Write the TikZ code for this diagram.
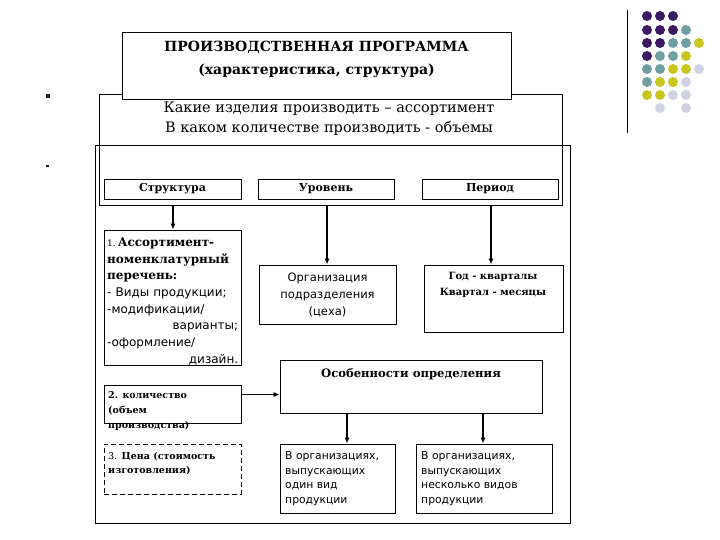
\documentclass[tikz,border=0pt]{standalone}
\usepackage{fontspec}
\setmainfont{DejaVu Serif}
\setsansfont{DejaVu Sans}
\usetikzlibrary{arrows.meta,calc}
\definecolor{dpurple}{HTML}{3B1A63}
\definecolor{dteal}{HTML}{6E9FA1}
\definecolor{dyellow}{HTML}{C9C41E}
\definecolor{dlav}{HTML}{D0D2E2}
\definecolor{bulletc}{HTML}{1A1A3A}
\begin{document}
\begin{tikzpicture}[x=1pt,y=-1pt,
  box/.style={draw=black,line width=0.9pt,inner sep=0pt},
  arr/.style={line width=1.4pt,-{Latex[length=6pt,width=5pt]}},
  thinarr/.style={line width=0.8pt,-{Latex[length=6pt,width=5pt]}},
  btxt/.style={font=\bfseries\fontsize{11}{13}\selectfont,inner sep=0pt},
  stxt/.style={font=\sffamily\fontsize{10.8}{14.5}\selectfont,inner sep=0pt,align=left,anchor=north west}]
\useasboundingbox (0,0) rectangle (720,540);
% outer frames
\node[box,minimum width=475pt,minimum height=378pt] (outer) at (332.5,334) {};
\node[box,minimum width=463pt,minimum height=111pt] (q) at (330.5,149.5) {};
\node[box,fill=white,minimum width=389pt,minimum height=67pt] (title) at (316.5,65.5) {};
\node[font=\bfseries\fontsize{14}{23}\selectfont,align=center,inner sep=0pt] (titletxt) at (316.5,59.5) {ПРОИЗВОДСТВЕННАЯ ПРОГРАММА\\(характеристика, структура)};
\node[font=\fontsize{14.5}{20.5}\selectfont,align=center,inner sep=0pt] (qtxt) at (329,118.5) {Какие изделия производить – ассортимент\\В каком количестве производить - объемы};
% row of headers
\node[box,minimum width=137pt,minimum height=20pt,btxt] (struct) at (172.5,189) {Структура};
\node[box,minimum width=136pt,minimum height=20pt,btxt] (lvl) at (326,189) {Уровень};
\node[box,minimum width=136pt,minimum height=20pt,btxt] (per) at (490,189) {Период};
% box 1
\node[box,minimum width=137pt,minimum height=135pt] (b1) at (172.5,297.5) {};
\node[inner sep=0pt,anchor=north west,align=left,text width=131pt,font=\fontsize{12}{16.7}\selectfont] (b1txt) at (107,237.5)
 {{\fontsize{9}{16.7}\selectfont 1.}\,\textbf{Ассортимент-}\\\textbf{номенклатурный}\\\textbf{перечень:}\\{\sffamily\fontsize{12}{16.7}\selectfont - Виды продукции;}\\{\sffamily\fontsize{12}{16.7}\selectfont -модификации/}\\\hfill{\sffamily\fontsize{12}{16.7}\selectfont варианты;}\\{\sffamily\fontsize{12}{16.7}\selectfont -оформление/}\\\hfill{\sffamily\fontsize{12}{16.7}\selectfont дизайн.}};
% level / period boxes
\node[box,minimum width=137pt,minimum height=59pt] (org) at (327.5,294.5) {};
\node[font=\sffamily\fontsize{11.5}{17}\selectfont,align=center,inner sep=0pt] (orgtxt) at (327.5,295) {Организация\\подразделения\\(цеха)};
\node[box,minimum width=139pt,minimum height=67pt] (god) at (493.5,298.5) {};
\node[font=\bfseries\fontsize{10}{16}\selectfont,align=center,inner sep=0pt] (godtxt) at (493,284.5) {Год - кварталы\\Квартал - месяцы};
% features
\node[box,minimum width=262pt,minimum height=53pt] (osob) at (411,386.5) {};
\node[font=\bfseries\fontsize{11.6}{13}\selectfont,inner sep=0pt] (osobtxt) at (411,374) {Особенности определения};
% box 2 and 3
\node[box,minimum width=137pt,minimum height=38pt] (b2) at (172.5,404) {};
\node[inner sep=0pt,anchor=north west,align=left,font=\bfseries\fontsize{9.5}{15}\selectfont] (b2txt) at (108,391.5) {2. количество\\(объем\\производства)};
\node[box,dashed,dash pattern=on 5pt off 3pt,minimum width=137pt,minimum height=50pt] (b3) at (172.5,469) {};
\node[inner sep=0pt,anchor=north west,align=left,font=\bfseries\fontsize{9.5}{14}\selectfont] (b3txt) at (108,452.5) {{\mdseries 3.} Цена (стоимость\\изготовления)};
% bottom boxes
\node[box,minimum width=115pt,minimum height=69pt] (bb1) at (337.5,478.5) {};
\node[stxt] (bb1txt) at (285,451.5) {В организациях,\\выпускающих\\один вид\\продукции};
\node[box,minimum width=136pt,minimum height=69pt] (bb2) at (484,478.5) {};
\node[stxt] (bb2txt) at (421,451.5) {В организациях,\\выпускающих\\несколько видов\\продукции};
% arrows
\draw[arr] ([xshift=0.5pt]struct.south |- q.south) -- ([xshift=0.5pt]b1.north);
\draw[arr] ([xshift=1pt]lvl.south |- q.south) -- ([xshift=1pt]lvl.south |- org.north);
\draw[arr] ([xshift=1pt]per.south |- q.south) -- ([xshift=1pt]per.south |- god.north);
\draw[thinarr] ([yshift=-10pt]b2.north east) -- ([yshift=-10pt]b2.north east -| osob.west);
\draw[arr] ([xshift=9.5pt]bb1.north |- osob.south) -- ([xshift=9.5pt]bb1.north);
\draw[arr] ([xshift=-1pt]bb2.north |- osob.south) -- ([xshift=-1pt]bb2.north);
% bullets
\fill[bulletc] (46,94) rectangle (50,98);
\fill[bulletc] (46,165) rectangle (48.5,167.5);
% decoration
\draw[line width=1pt] (627,10) -- (627,133);
\foreach \c/\x/\y in {
 dpurple/647/16,dpurple/660/16,dpurple/673/16,
 dpurple/647/30,dpurple/660/30,dpurple/673/30,dteal/686/30,
 dpurple/647/43,dpurple/660/43,dteal/673/43,dteal/686/43,dyellow/699/43,
 dpurple/647/56,dteal/660/56,dteal/673/56,dyellow/686/56,
 dteal/647/69,dteal/660/69,dyellow/673/69,dyellow/686/69,dlav/699/69,
 dteal/647/82,dyellow/660/82,dyellow/673/82,dlav/686/82,
 dyellow/647/95,dyellow/660/95,dlav/673/95,dlav/686/95,
 dlav/660/108,dlav/686/108}
 \fill[\c] (\x,\y) circle (5pt);
\end{tikzpicture}
\end{document}
